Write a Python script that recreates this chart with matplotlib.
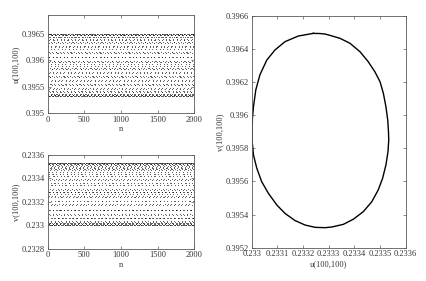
"""Invariant circle of the map at grid point (100,100): time series and phase portrait."""

import matplotlib
matplotlib.use("Agg")
import matplotlib.pyplot as plt
import numpy as np


# points, clockwise from the top
U_CURVE = [0.233240, 0.233266, 0.233286, 0.233305, 0.233344, 0.233383, 0.233422,
           0.233454, 0.233480, 0.233500, 0.233513, 0.233523, 0.233530, 0.233533,
           0.233534, 0.233531, 0.233523, 0.233510, 0.233493, 0.233468, 0.233435,
           0.233396, 0.233357, 0.233312, 0.233286, 0.233247, 0.233208, 0.233169,
           0.233130, 0.233098, 0.233065, 0.233039, 0.233020, 0.233007, 0.233002,
           0.233002, 0.233003, 0.233007, 0.233016, 0.233032, 0.233059, 0.233091,
           0.233130, 0.233182]
V_CURVE = [0.396495, 0.396494, 0.396491, 0.396483, 0.396465, 0.396435, 0.396384,
           0.396324, 0.396263, 0.396203, 0.396133, 0.396052, 0.395972, 0.395899,
           0.395851, 0.395780, 0.395700, 0.395619, 0.395549, 0.395478, 0.395418,
           0.395372, 0.395341, 0.395325, 0.395321, 0.395323, 0.395337, 0.395364,
           0.395407, 0.395458, 0.395529, 0.395599, 0.395680, 0.395760, 0.395841,
           0.395923, 0.395984, 0.396052, 0.396153, 0.396244, 0.396334, 0.396395,
           0.396445, 0.396479]

N_STEPS = 2000
ORBIT_STEP = 13   # curve points the orbit advances per iteration
DRIFT_EVERY = 9   # extra one-point slip every this many iterations

X_TICKS = [0, 500, 1000, 1500, 2000]
U_TICKS = [0.395, 0.3955, 0.396, 0.3965]
V_TICKS = [0.2328, 0.233, 0.2332, 0.2334, 0.2336]
PU_TICKS = [0.233, 0.2331, 0.2332, 0.2333, 0.2334, 0.2335, 0.2336]
PV_TICKS = [0.3952, 0.3954, 0.3956, 0.3958, 0.396, 0.3962, 0.3964, 0.3966]

GREY = "#5a5a5a"
TEXT = "#333333"
FS = 6


def style(axes):
    """MATLAB-ish box with inward ticks."""
    for spine in axes.spines.values():
        spine.set_color(GREY)
        spine.set_linewidth(0.6)
    axes.tick_params(direction="in", length=2, width=0.5, colors=GREY,
                     labelcolor=TEXT, labelsize=FS, pad=2,
                     top=True, right=True)


def main() -> None:
    """The main function."""

    plt.rcParams["font.family"] = ["Liberation Serif", "DejaVu Serif"]
    fig = plt.figure(figsize=(4.27, 2.81), dpi=100)

    ax_u = fig.add_axes([0.1117, 0.5968, 0.3433, 0.3498])
    ax_v = fig.add_axes([0.1117, 0.1149, 0.3433, 0.3335])
    ax_p = fig.add_axes([0.5894, 0.1185, 0.3607, 0.8246])

    n = np.arange(N_STEPS + 1)
    idx = (n * ORBIT_STEP + n // DRIFT_EVERY) % len(U_CURVE)
    u_series = np.array(V_CURVE)[idx]
    v_series = np.array(U_CURVE)[idx]

    ax_u.plot(n, u_series, ".", color="black", markersize=1.0, markeredgewidth=0)
    ax_u.set_xlim(0, 2000)
    ax_u.set_ylim(0.395, 0.39685)
    ax_u.set_xticks(X_TICKS)
    ax_u.set_yticks(U_TICKS)
    ax_u.set_yticklabels(["0.395", "0.3955", "0.396", "0.3965"])
    ax_u.set_xlabel("n", fontsize=FS, color=TEXT, labelpad=1)
    ax_u.set_ylabel("u(100,100)", fontsize=FS, color=TEXT, labelpad=1)
    style(ax_u)

    ax_v.plot(n, v_series, ".", color="black", markersize=1.0, markeredgewidth=0)
    ax_v.set_xlim(0, 2000)
    ax_v.set_ylim(0.2328, 0.2336)
    ax_v.set_xticks(X_TICKS)
    ax_v.set_yticks(V_TICKS)
    ax_v.set_yticklabels(["0.2328", "0.233", "0.2332", "0.2334", "0.2336"])
    ax_v.set_xlabel("n", fontsize=FS, color=TEXT, labelpad=1)
    ax_v.set_ylabel("v(100,100)", fontsize=FS, color=TEXT, labelpad=1)
    style(ax_v)

    ax_p.plot(U_CURVE + U_CURVE[:1], V_CURVE + V_CURVE[:1], color="black", linewidth=1.0)
    ax_p.set_xlim(0.233, 0.2336)
    ax_p.set_ylim(0.3952, 0.3966)
    ax_p.set_xticks(PU_TICKS)
    ax_p.set_xticklabels(["0.233", "0.2331", "0.2332", "0.2333", "0.2334", "0.2335", "0.2336"])
    ax_p.set_yticks(PV_TICKS)
    ax_p.set_yticklabels(["0.3952", "0.3954", "0.3956", "0.3958", "0.396", "0.3962", "0.3964", "0.3966"])
    ax_p.set_xlabel("u(100,100)", fontsize=FS, color=TEXT, labelpad=1)
    ax_p.set_ylabel("v(100,100)", fontsize=FS, color=TEXT, labelpad=1)
    style(ax_p)

    fig.savefig("out.png", dpi=100)


if __name__ == "__main__":
    main()
